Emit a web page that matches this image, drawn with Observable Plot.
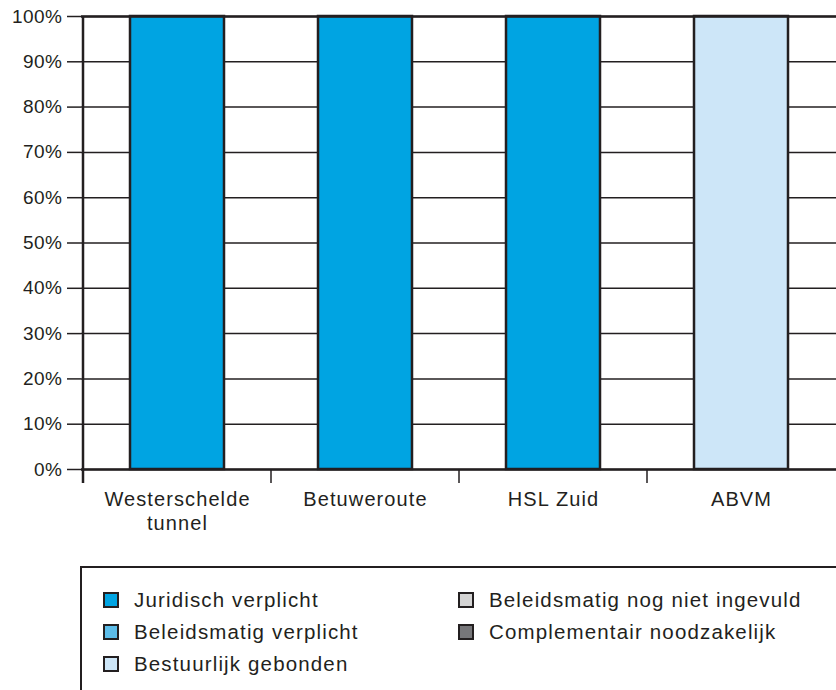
<!DOCTYPE html>
<html><head><meta charset="utf-8">
<script src="https://cdn.jsdelivr.net/npm/d3@7"></script>
<script src="https://cdn.jsdelivr.net/npm/@observablehq/plot@0.6"></script>
<style>
body{margin:0;background:#fff;font-family:"Liberation Sans",Arial,sans-serif;color:#231f20;overflow:hidden}
#wrap{position:relative;width:836px;height:690px;overflow:hidden}
#chart svg{display:block}
#chart svg g[aria-label="x-axis tick label"] text{letter-spacing:1.1px}
#chart svg g[aria-label="y-axis tick label"] text{letter-spacing:0.5px}
.legend{position:absolute;left:80px;top:566px;width:820px;height:160px;border:2.5px solid #231f20;box-sizing:border-box}
.item{position:absolute;height:24px;line-height:24px;display:flex;align-items:center;font-size:20.5px;letter-spacing:1.15px;white-space:nowrap}
.sw{width:12px;height:12px;border:2px solid #231f20;margin-right:15px;flex:none}
</style>
</head><body>
<div id="wrap"><div id="chart"></div><div class="legend" id="legend"></div></div>
<script>
const projects = ["Westerschelde tunnel", "Betuweroute", "HSL Zuid", "ABVM"];
const projectLabels = ["Westerschelde\ntunnel", "Betuweroute", "HSL Zuid", "ABVM"];
const categories = ["Juridisch verplicht", "Beleidsmatig verplicht", "Bestuurlijk gebonden", "Beleidsmatig nog niet ingevuld", "Complementair noodzakelijk"];
const colors = ["#00a4e2", "#5dbde9", "#cde6f8", "#d4d4d4", "#77777a"];
const juridischVerplicht = [100, 100, 100, 0];
const beleidsmatigVerplicht = [0, 0, 0, 0];
const bestuurlijkGebonden = [0, 0, 0, 100];
const nogNietIngevuld = [0, 0, 0, 0];
const complementair = [0, 0, 0, 0];
const yTicks = [0, 10, 20, 30, 40, 50, 60, 70, 80, 90, 100];

const series = [juridischVerplicht, beleidsmatigVerplicht, bestuurlijkGebonden, nogNietIngevuld, complementair];
const data = [];
projects.forEach((p, i) => series.forEach((s, k) => {
  if (s[i] > 0) data.push({project: p, category: categories[k], value: s[i]});
}));

const ink = "#231f20";
const padInner = 0.5;

function separators(index, scales) {
  const x = scales.x, y = scales.y;
  const step = x(projects[1]) - x(projects[0]);
  const g = d3.create("svg:g");
  const y0 = y(0), y1 = y(100);
  projects.forEach((p, i) => {
    const bx = x(p) - step * padInner / 2;
    g.append("line")
      .attr("x1", bx).attr("x2", bx)
      .attr("y1", i === 0 ? y1 : y0).attr("y2", y0 + 14)
      .attr("stroke", ink).attr("stroke-width", i === 0 ? 2.5 : 1.5);
  });
  return g.node();
}

const plot = Plot.plot({
  width: 836,
  height: 560,
  marginTop: 16,
  marginLeft: 81,
  marginRight: 0,
  marginBottom: 91,
  style: {fontFamily: '"Liberation Sans", Arial, sans-serif', color: ink, background: "#fff"},
  x: {domain: projects, paddingInner: padInner, paddingOuter: padInner / 2, label: null},
  y: {domain: [0, 100], label: null},
  color: {domain: categories, range: colors},
  marks: [
    Plot.ruleY(yTicks, {stroke: ink, strokeWidth: 1.5}),
    Plot.barY(data, {x: "project", y: "value", fill: "category", stroke: ink, strokeWidth: 2.5}),
    Plot.ruleY([0, 100], {stroke: ink, strokeWidth: 2.5}),
    separators,
    Plot.axisY(yTicks, {tickSize: 14, tickPadding: 5, fontSize: 19, tickFormat: d => d + "%", stroke: ink, strokeWidth: 1.5, strokeOpacity: 1, label: null}),
    Plot.axisX({tickSize: 0, tickPadding: 19, fontSize: 20, lineHeight: 1.2, tickFormat: (d) => projectLabels[projects.indexOf(d)], label: null})
  ]
});
document.getElementById("chart").appendChild(plot);

const legend = document.getElementById("legend");
const positions = [[21, 20], [21, 52], [21, 84], [376, 20], [376, 52]];
categories.forEach((c, i) => {
  const it = document.createElement("div");
  it.className = "item";
  it.style.left = positions[i][0] + "px";
  it.style.top = positions[i][1] + "px";
  const sw = document.createElement("span");
  sw.className = "sw";
  sw.style.background = colors[i];
  const tx = document.createElement("span");
  tx.textContent = c;
  it.appendChild(sw); it.appendChild(tx);
  legend.appendChild(it);
});
</script>
</body></html>
